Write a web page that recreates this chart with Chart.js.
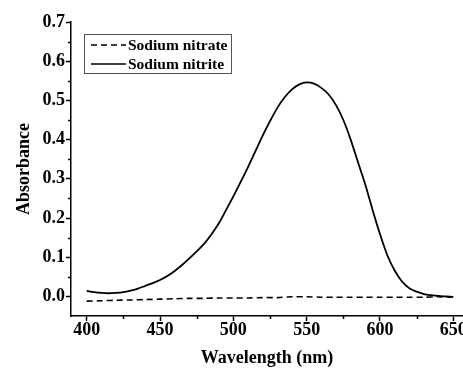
<!DOCTYPE html>
<html>
<head>
<meta charset="utf-8">
<script src="https://cdn.jsdelivr.net/npm/chart.js@4/dist/chart.umd.min.js"></script>
<style>
html,body{margin:0;padding:0;background:#fff;}
#wrap{width:463px;height:369px;position:relative;}
</style>
</head>
<body>
<div id="wrap"><canvas id="c" width="463" height="369"></canvas></div>
<script>
const nitriteWavelengths = [400,405,410,415,420,425,430,435,440,445,450,455,460,465,470,475,480,485,490,495,500,505,510,515,520,525,530,535,540,545,550,555,560,565,570,575,580,585,590,595,600,605,610,615,620,625,630,635,640,645,650];
const nitriteValues = [0.014,0.011,0.009,0.008,0.009,0.011,0.015,0.020,0.027,0.034,0.042,0.052,0.065,0.080,0.097,0.115,0.134,0.158,0.186,0.220,0.255,0.292,0.330,0.370,0.410,0.447,0.481,0.508,0.528,0.541,0.546,0.543,0.532,0.515,0.488,0.450,0.400,0.342,0.285,0.220,0.159,0.105,0.066,0.038,0.021,0.012,0.006,0.003,0.001,0.000,-0.001];
const nitrateWavelengths = [400,410,420,430,440,450,460,470,480,490,500,510,520,530,540,550,560,570,580,590,600,610,620,630,640,650];
const nitrateValues = [-0.012,-0.011,-0.010,-0.009,-0.008,-0.007,-0.006,-0.005,-0.005,-0.004,-0.004,-0.004,-0.003,-0.003,-0.001,-0.001,-0.002,-0.002,-0.002,-0.002,-0.002,-0.002,-0.002,-0.002,-0.001,-0.002];
const seriesLabels = ['Sodium nitrate','Sodium nitrite'];
const xMajorTicks = [400,450,500,550,600,650];
const xMinorTicks = [425,475,525,575,625];
const yMajorTicks = [0.0,0.1,0.2,0.3,0.4,0.5,0.6,0.7];
const yMinorTicks = [0.05,0.15,0.25,0.35,0.45,0.55,0.65];

const FONT = "'Liberation Serif','Times New Roman',serif";

const minorTicksPlugin = {
  id: 'minorTicks',
  afterDraw(chart) {
    const ctx = chart.ctx;
    const xs = chart.scales.x, ys = chart.scales.y;
    const area = chart.chartArea;
    ctx.save();
    ctx.strokeStyle = '#000';
    ctx.lineWidth = 1.5;
    ctx.beginPath();
    xMinorTicks.forEach(v => {
      const px = Math.round(xs.getPixelForValue(v)) + 0.5;
      ctx.moveTo(px, area.bottom);
      ctx.lineTo(px, area.bottom + 3);
    });
    yMinorTicks.forEach(v => {
      const py = Math.round(ys.getPixelForValue(v)) + 0.5;
      ctx.moveTo(area.left, py);
      ctx.lineTo(area.left - 3, py);
    });
    ctx.stroke();
    ctx.restore();
  }
};

const boxLegendPlugin = {
  id: 'boxLegend',
  afterDraw(chart) {
    const ctx = chart.ctx;
    ctx.save();
    const x0 = 84.5, y0 = 34.5, w = 147, h = 39;
    ctx.strokeStyle = '#555';
    ctx.lineWidth = 1;
    ctx.strokeRect(x0, y0, w, h);
    ctx.font = "bold 15.5px " + FONT;
    ctx.fillStyle = '#000';
    ctx.textBaseline = 'middle';
    const rows = [45, 64];
    chart.data.datasets.forEach((ds, i) => {
      const y = rows[i];
      ctx.beginPath();
      ctx.strokeStyle = '#000';
      ctx.lineWidth = 1.6;
      ctx.setLineDash(ds.borderDash || []);
      ctx.moveTo(91, y);
      ctx.lineTo(126, y);
      ctx.stroke();
      ctx.setLineDash([]);
      ctx.fillText(ds.label, 128, y + 1);
    });
    ctx.restore();
  }
};

new Chart(document.getElementById('c'), {
  type: 'line',
  data: {
    datasets: [
      {
        label: seriesLabels[0],
        data: nitrateWavelengths.map((w, i) => ({x: w, y: nitrateValues[i]})),
        borderColor: '#000',
        borderWidth: 1.6,
        borderDash: [6, 4],
        pointRadius: 0,
        tension: 0.3,
        fill: false
      },
      {
        label: seriesLabels[1],
        data: nitriteWavelengths.map((w, i) => ({x: w, y: nitriteValues[i]})),
        borderColor: '#000',
        borderWidth: 1.8,
        pointRadius: 0,
        cubicInterpolationMode: 'monotone',
        fill: false
      }
    ]
  },
  options: {
    responsive: false,
    animation: false,
    layout: { padding: { top: 22, right: 0, left: 14, bottom: 0 } },
    plugins: { legend: { display: false }, tooltip: { enabled: false } },
    scales: {
      x: {
        type: 'linear',
        min: 389.3,
        max: 656.6,
        afterBuildTicks: s => { s.ticks = xMajorTicks.map(v => ({value: v})); },
        afterFit: s => { s.height = 53; s.paddingRight = 0; s.paddingLeft = 0; },
        ticks: {
          color: '#000',
          font: { family: FONT, size: 18, weight: 'bold' },
          padding: -1,
          maxRotation: 0,
          autoSkip: false,
          callback: v => String(v)
        },
        grid: { drawOnChartArea: false, tickLength: 5, tickColor: '#000', tickWidth: 1.5 },
        border: { color: '#000', width: 1.5 },
        title: {
          display: true,
          text: 'Wavelength (nm)',
          color: '#000',
          font: { family: FONT, size: 18, weight: 'bold' },
          padding: { top: 0, bottom: 0 }
        }
      },
      y: {
        type: 'linear',
        min: -0.05,
        max: 0.7,
        afterBuildTicks: s => { s.ticks = yMajorTicks.map(v => ({value: v})); },
        afterFit: s => { s.width = 57; s.paddingTop = 0; s.paddingBottom = 0; },
        ticks: {
          color: '#000',
          font: { family: FONT, size: 18, weight: 'bold' },
          padding: 1,
          autoSkip: false,
          callback: v => Number(v).toFixed(1)
        },
        grid: { drawOnChartArea: false, tickLength: 5, tickColor: '#000', tickWidth: 1.5 },
        border: { color: '#000', width: 1.5 },
        title: {
          display: true,
          text: 'Absorbance',
          color: '#000',
          font: { family: FONT, size: 18, weight: 'bold' },
          padding: { top: 0, bottom: 0 }
        }
      }
    }
  },
  plugins: [minorTicksPlugin, boxLegendPlugin]
});
</script>
</body>
</html>
